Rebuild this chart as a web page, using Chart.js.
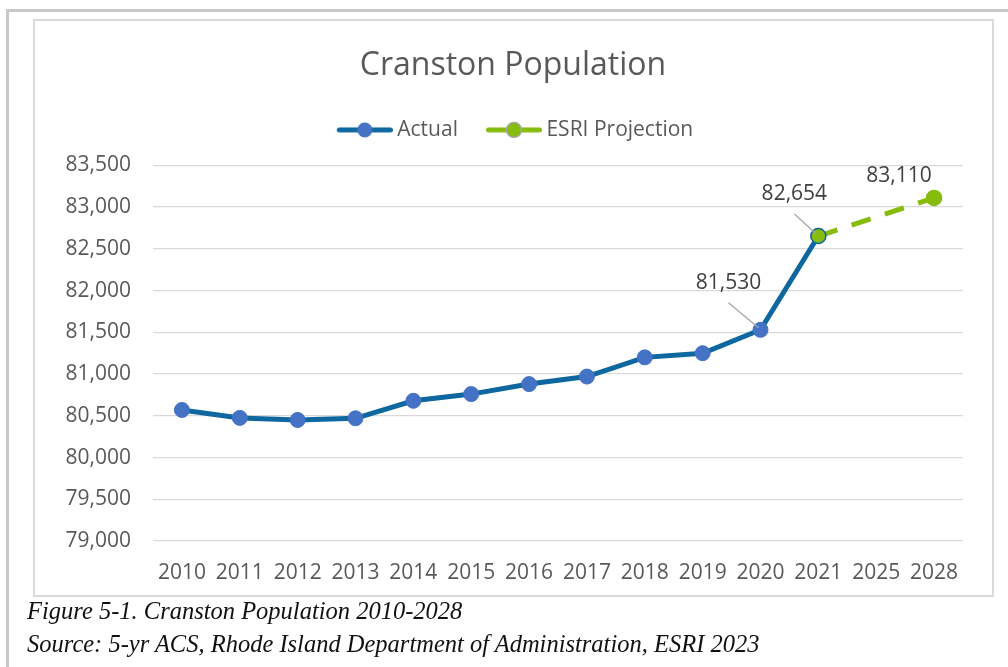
<!DOCTYPE html>
<html>
<head>
<meta charset="utf-8">
<script src="https://cdn.jsdelivr.net/npm/chart.js@4/dist/chart.umd.min.js"></script>
<style>
  html, body { margin: 0; padding: 0; background: #fff; }
  body { width: 1008px; height: 667px; position: relative; overflow: hidden; }
  #outer { position: absolute; left: 6px; top: 9px; width: 1010px; height: 670px;
           border-left: 3px solid #c8c8c8; border-top: 3px solid #c8c8c8; }
  #box { position: absolute; left: 33px; top: 19px; width: 957px; height: 574px;
         border: 2px solid #dadada; }
  #chart { position: absolute; left: 0; top: 0; }
  .cap { position: absolute; left: 27px; font-family: "Liberation Serif", serif; font-style: italic;
         font-size: 24.5px; line-height: 33px; color: #111; white-space: nowrap; }
</style>
</head>
<body>
<div id="outer"></div>
<div id="box"></div>
<canvas id="chart" width="1008" height="667"></canvas>
<div class="cap" style="top:594px">Figure 5-1. Cranston Population 2010-2028</div>
<div class="cap" style="top:627px">Source: 5-yr ACS, Rhode Island Department of Administration, ESRI 2023</div>
<script>
const years = ['2010', '2011', '2012', '2013', '2014', '2015', '2016', '2017', '2018', '2019', '2020', '2021', '2025', '2028'];
const actual = [80570, 80475, 80450, 80470, 80680, 80760, 80880, 80970, 81200, 81250, 81530, 82654, null, null];
const projection = [null, null, null, null, null, null, null, null, null, null, null, 82654, null, 83110];
const yTicks = { min: 79000, max: 83500, step: 500 };

const blue = '#0f67a0';
const markerBlue = '#4472c4';
const green = '#86bc0c';

// line + dot sample used as legend symbol (line sits a little right of the box)
function legendSymbol(lineColor, dotColor, dotBorder) {
  const c = document.createElement('canvas');
  c.width = 66; c.height = 20;
  const g = c.getContext('2d');
  g.strokeStyle = lineColor; g.lineWidth = 5; g.lineCap = 'round';
  g.beginPath(); g.moveTo(12.5, 10); g.lineTo(63.5, 10); g.stroke();
  g.fillStyle = dotColor;
  g.beginPath(); g.arc(38, 10, 7.5, 0, Math.PI * 2); g.fill();
  if (dotBorder) { g.strokeStyle = dotBorder; g.lineWidth = 1.5; g.stroke(); }
  return c;
}

const valueLabels = {
  id: 'valueLabels',
  afterDatasetsDraw(chart, args, opts) {
    const ctx = chart.ctx;
    ctx.save();
    ctx.font = '21px "Open Sans"';
    ctx.fillStyle = '#404040';
    ctx.textAlign = 'center';
    ctx.textBaseline = 'middle';
    opts.items.forEach(it => {
      const pt = chart.getDatasetMeta(it.ds).data[it.i];
      const v = chart.data.datasets[it.ds].data[it.i];
      const tx = pt.x + it.dx, ty = pt.y + it.dy;
      if (it.leader) {
        ctx.strokeStyle = '#a6a6a6'; ctx.lineWidth = 1.3;
        ctx.beginPath(); ctx.moveTo(tx, ty + 20); ctx.lineTo(pt.x - 2, pt.y - 2); ctx.stroke();
      }
      ctx.fillText(v.toLocaleString('en-US'), tx, ty);
    });
    ctx.restore();
  }
};

Chart.defaults.font.family = '"Open Sans", sans-serif';
Chart.defaults.color = '#595959';

new Chart(document.getElementById('chart').getContext('2d'), {
  type: 'line',
  data: {
    labels: years,
    datasets: [{
      label: 'Actual',
      data: actual,
      borderColor: blue,
      borderWidth: 5,
      pointRadius: 7.5,
      pointBackgroundColor: markerBlue,
      pointBorderColor: markerBlue,
      pointBorderWidth: 1,
      order: 2
    }, {
      label: 'ESRI Projection',
      data: projection,
      borderColor: green,
      borderWidth: 5,
      borderDash: [20, 15],
      spanGaps: true,
      pointRadius: 7.5,
      pointBackgroundColor: green,
      pointBorderColor: projection.map((v, i) => i === 11 ? blue : green),
      pointBorderWidth: 1.5,
      order: 1
    }]
  },
  options: {
    responsive: false,
    animation: false,
    layout: { padding: { top: 20, left: 63, right: 45, bottom: 0 } },
    plugins: {
      title: {
        display: true,
        text: 'Cranston Population',
        font: { size: 32, weight: 'normal' },
        color: '#595959',
        padding: { top: 27, bottom: 10 }
      },
      // empty spacer between legend and plot
      subtitle: {
        display: true,
        text: '',
        weight: 500,
        padding: { top: 0, bottom: 3 },
        font: { size: 10 }
      },
      legend: {
        labels: {
          usePointStyle: true,
          pointStyleWidth: 54,
          padding: 24,
          font: { size: 21 },
          color: '#595959',
          generateLabels: () => [
            { text: 'Actual', pointStyle: legendSymbol(blue, markerBlue), datasetIndex: 0, fontColor: '#595959', lineWidth: 0 },
            { text: 'ESRI Projection', pointStyle: legendSymbol(green, green, '#a6a6a6'), datasetIndex: 1, fontColor: '#595959', lineWidth: 0 }
          ]
        }
      },
      tooltip: { enabled: false },
      valueLabels: {
        items: [
          { ds: 0, i: 10, dx: -32, dy: -47, leader: true },
          { ds: 1, i: 11, dx: -24, dy: -42, leader: true },
          { ds: 1, i: 13, dx: -35, dy: -22, leader: false }
        ]
      }
    },
    scales: {
      x: {
        offset: true,
        grid: { display: false, drawTicks: false, offset: true },
        border: { display: false },
        ticks: { padding: 19, font: { size: 21 }, color: '#595959', maxRotation: 0 },
        afterFit: s => { s.height = 126; }
      },
      y: {
        min: yTicks.min,
        max: yTicks.max,
        grid: { color: '#d9d9d9', lineWidth: 1.3, drawTicks: false },
        border: { display: false },
        ticks: { stepSize: yTicks.step, padding: 22, font: { size: 21 }, color: '#595959' },
        afterFit: s => { s.width = 90; }
      }
    }
  },
  plugins: [valueLabels]
});
</script>
</body>
</html>
